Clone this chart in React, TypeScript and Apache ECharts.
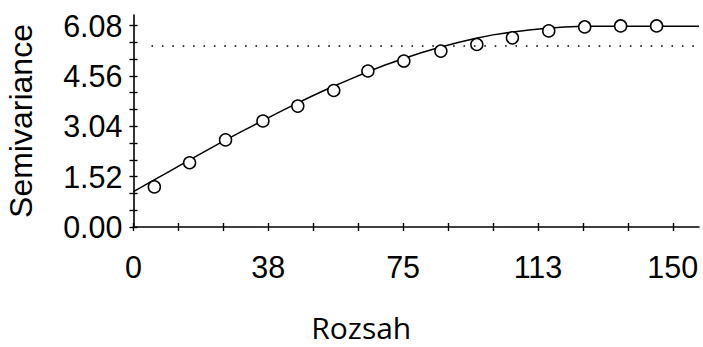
import React, { useEffect, useRef } from "react";
import * as echarts from "echarts";

// Experimental semivariogram (lag distance vs. semivariance)
const lagDistance = [5.8, 15.6, 25.6, 36.0, 45.7, 55.7, 65.2, 75.2, 85.5, 95.5, 105.4, 115.5, 125.5, 135.5, 145.5];
const semivariance = [1.21, 1.94, 2.63, 3.2, 3.65, 4.12, 4.71, 5.01, 5.31, 5.51, 5.71, 5.92, 6.04, 6.07, 6.07];

// Fitted model curve
const modelDistance = [0, 5, 10, 15, 20, 25, 30, 35, 40, 45, 50, 55, 60, 65, 70, 75, 80, 85, 90, 95, 100, 105, 110, 115, 120, 125, 157.3];
const modelSemivariance = [1.07, 1.38, 1.68, 1.99, 2.29, 2.59, 2.88, 3.16, 3.44, 3.71, 3.97, 4.22, 4.45, 4.68, 4.89, 5.08, 5.26, 5.42, 5.56, 5.69, 5.8, 5.88, 5.95, 6.0, 6.04, 6.06, 6.06];

// Sample variance reference line
const sampleVariance = 5.47;
const varianceLineStart = 5;

// Axis ticks and labels
const xTickValues = [0, 12.5, 25, 37.5, 50, 62.5, 75, 87.5, 100, 112.5, 125, 137.5, 150];
const xLabelValues = [0, 37.5, 75, 112.5, 150];
const yTickValues = [0, 0.5067, 1.0133, 1.52, 2.0267, 2.5333, 3.04, 3.5467, 4.0533, 4.56, 5.0667, 5.5733, 6.08];
const yLabelValues = [0, 1.52, 3.04, 4.56, 6.08];

const X_MAX = 157.3;
const Y_MAX = 6.4;

const tickFont = "'Liberation Sans', Arial, sans-serif";

export default function App() {
  const ref = useRef<HTMLDivElement>(null);

  useEffect(() => {
    if (!ref.current) return;
    const chart = echarts.init(ref.current, undefined, { renderer: "svg" });

    const axisLine = { show: true, lineStyle: { color: "#000", width: 1.6 } };
    const baseX = { type: "value", min: 0, max: X_MAX, position: "bottom", splitLine: { show: false } };
    const baseY = { type: "value", min: 0, max: Y_MAX, position: "left", splitLine: { show: false } };

    chart.setOption({
      animation: false,
      backgroundColor: "#fff",
      grid: { left: 133.5, right: 4, top: 15, bottom: 120, containLabel: false, outerBoundsMode: "none" },
      xAxis: [
        {
          ...baseX,
          axisLine,
          axisTick: { show: true, inside: false, length: 4, customValues: xTickValues, lineStyle: { color: "#000", width: 1.4 } },
          axisLabel: {
            show: true,
            customValues: xLabelValues,
            margin: 24,
            color: "#000",
            fontSize: 30.5,
            fontFamily: tickFont,
            formatter: (v: number) => String(Math.round(v)),
          },
          name: "Rozsah",
          nameLocation: "middle",
          nameGap: 86,
          nameTextStyle: {
            color: "#000",
            fontSize: 30,
            lineHeight: 28,
            fontFamily: "'Open Sans', 'Noto Sans', sans-serif",
            padding: [0, 110, 0, 0],
          },
        },
        {
          ...baseX,
          axisLine: { show: false },
          axisTick: { show: true, inside: true, length: 4, customValues: xTickValues, lineStyle: { color: "#000", width: 1.4 } },
          axisLabel: { show: false },
        },
      ],
      yAxis: [
        {
          ...baseY,
          axisLine,
          axisTick: { show: true, inside: false, length: 4, customValues: yTickValues, lineStyle: { color: "#000", width: 1.4 } },
          axisLabel: {
            show: true,
            customValues: yLabelValues,
            margin: 11,
            color: "#000",
            fontSize: 30.5,
            fontFamily: tickFont,
            formatter: (v: number) => v.toFixed(2),
          },
          name: "Semivariance",
          nameLocation: "middle",
          nameGap: 97,
          nameRotate: 90,
          nameTextStyle: { color: "#000", fontSize: 32, fontFamily: tickFont },
        },
        {
          ...baseY,
          axisLine: { show: false },
          axisTick: { show: true, inside: true, length: 4, customValues: yTickValues, lineStyle: { color: "#000", width: 1.4 } },
          axisLabel: { show: false },
        },
      ],
      series: [
        {
          type: "line",
          name: "model",
          xAxisIndex: 0,
          yAxisIndex: 0,
          data: modelDistance.map((d, i) => [d, modelSemivariance[i]]),
          smooth: false,
          showSymbol: false,
          symbol: "none",
          lineStyle: { color: "#000", width: 1.5 },
          z: 2,
          markLine: {
            silent: true,
            symbol: "none",
            label: { show: false },
            lineStyle: { color: "#000", width: 1.6, type: [1.6, 8.8] },
            data: [[{ coord: [varianceLineStart, sampleVariance] }, { coord: [X_MAX, sampleVariance] }]],
          },
        },
        {
          type: "scatter",
          name: "semivariance",
          xAxisIndex: 0,
          yAxisIndex: 0,
          data: lagDistance.map((d, i) => [d, semivariance[i]]),
          symbol: "circle",
          symbolSize: 12,
          itemStyle: { color: "#fff", borderColor: "#000", borderWidth: 1.5, opacity: 1 },
          z: 3,
        },
      ],
    });

    return () => chart.dispose();
  }, []);

  return (
    <div
      ref={ref}
      style={{ position: "fixed", left: 0, top: 0, width: 703, height: 347, background: "#fff" }}
    />
  );
}
